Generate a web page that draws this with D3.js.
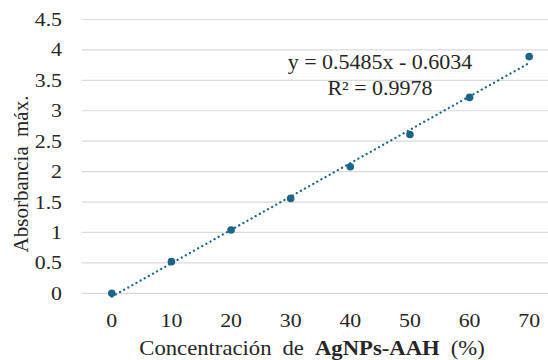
<!DOCTYPE html>
<html>
<head>
<meta charset="utf-8">
<script src="https://cdn.jsdelivr.net/npm/d3@7"></script>
<style>
  html, body { margin: 0; padding: 0; background: #fff; }
</style>
</head>
<body>
<svg id="chart" width="548" height="360" font-family="'Liberation Serif', 'Times New Roman', serif"></svg>
<script>
const categories = ["0", "10", "20", "30", "40", "50", "60", "70"];
const absorbance = [0, 0.52, 1.04, 1.56, 2.08, 2.61, 3.22, 3.89];
const yTicks = [0, 0.5, 1, 1.5, 2, 2.5, 3, 3.5, 4, 4.5];
const trendSlope = 0.5485;
const trendIntercept = -0.6034;
const equationLines = ["y = 0.5485x - 0.6034", "R² = 0.9978"];
const xTitleParts = [["Concentración de ", false], ["AgNPs-AAH", true], [" (%)", false]];
const yTitle = "Absorbancia máx.";

const svg = d3.select("#chart");
const color = "#1c6587";
const textColor = "#262626";
const serif = "'Liberation Serif', 'Times New Roman', serif";

const x = d3.scaleBand().domain(categories).range([82, 559]).padding(0);
const y = d3.scaleLinear().domain([0, 4.5]).range([293.3, 19.5]);
const cx = c => x(c) + x.bandwidth() / 2;

// gridlines
svg.append("g").selectAll("line").data(yTicks).join("line")
  .attr("x1", 82).attr("x2", 548)
  .attr("y1", d => y(d)).attr("y2", d => y(d))
  .attr("stroke", "#d9d9d9").attr("stroke-width", 1.2);

// y tick labels
svg.append("g").selectAll("text").data(yTicks).join("text")
  .attr("transform", d => `translate(62,${y(d) + 6.5}) scale(1.12,1)`)
  .attr("text-anchor", "end")
  .attr("font-family", serif).attr("fill", textColor)
  .attr("font-size", 19.5)
  .text(d => d);

// x tick labels
svg.append("g").selectAll("text").data(categories).join("text")
  .attr("transform", d => `translate(${cx(d)},327) scale(1.12,1)`)
  .attr("text-anchor", "middle")
  .attr("font-family", serif).attr("fill", textColor)
  .attr("font-size", 19.5)
  .text(d => d);

// trendline (Excel index-based equation, x = 1..n)
const trendPts = [categories[0], categories[categories.length - 1]].map(c => {
  const i = categories.indexOf(c) + 1;
  return [cx(c), y(trendSlope * i + trendIntercept)];
});
svg.append("path")
  .attr("d", d3.line()(trendPts))
  .attr("fill", "none")
  .attr("stroke", color)
  .attr("stroke-width", 2.3)
  .attr("stroke-linecap", "round")
  .attr("stroke-dasharray", "0.01 4.7");

// points
svg.append("g").selectAll("circle").data(categories).join("circle")
  .attr("cx", d => cx(d))
  .attr("cy", (d, i) => y(absorbance[i]))
  .attr("r", 3.8)
  .attr("fill", color);

// equation
svg.append("g").selectAll("text").data(equationLines).join("text")
  .attr("transform", (d, i) => `translate(380,${69 + i * 26}) scale(1.1,1)`)
  .attr("text-anchor", "middle")
  .attr("font-family", serif).attr("fill", textColor)
  .attr("font-size", 20)
  .text(d => d);

// x title
const xt = svg.append("text")
  .attr("transform", "translate(312,355) scale(1.08,1)")
  .attr("text-anchor", "middle")
  .attr("font-family", serif).attr("fill", textColor)
  .attr("font-size", 21)
  .attr("word-spacing", 5);
xt.selectAll("tspan").data(xTitleParts).join("tspan")
  .attr("font-weight", d => d[1] ? "bold" : "normal")
  .text(d => d[0]);

// y title
svg.append("text")
  .attr("transform", "translate(28,174) rotate(-90)")
  .attr("text-anchor", "middle")
  .attr("font-family", serif).attr("fill", textColor)
  .attr("font-size", 21)
  .attr("word-spacing", 4)
  .text(yTitle);
</script>
</body>
</html>
